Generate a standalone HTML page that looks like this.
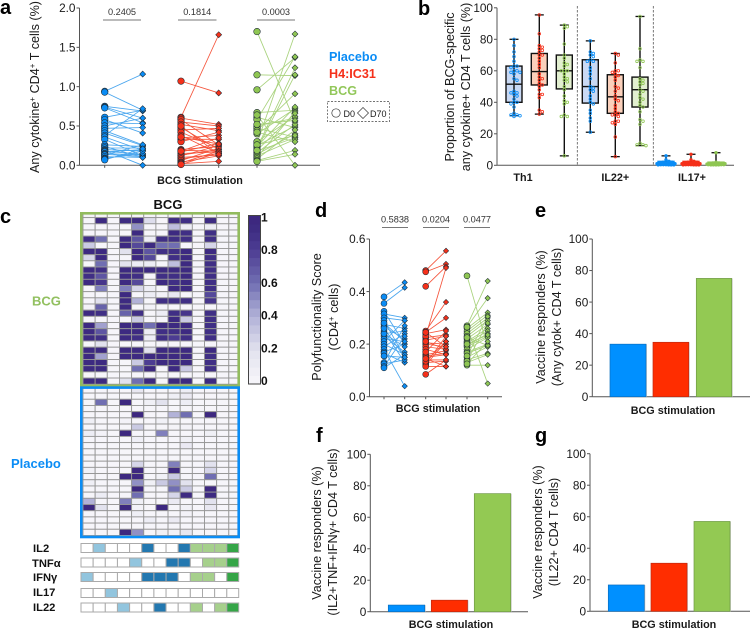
<!DOCTYPE html>
<html lang="en">
<head>
<meta charset="utf-8">
<title>BCG vaccine response figure</title>
<style>
html,body{margin:0;padding:0;background:#fff}
#figure{display:block;width:750px;height:629px}
text{font-family:"Liberation Sans",sans-serif;fill:#1a1a1a}
.tick{font-size:11.8px;text-anchor:end}
.title{font-size:12.6px;text-anchor:middle}
.xl{font-size:10.8px;font-weight:bold;text-anchor:middle}
.pv{font-size:9.2px;text-anchor:middle;fill:#333}
.letter{font-size:20px;font-weight:bold;fill:#000}
.hl{font-size:11.2px;font-weight:bold;fill:#111}
.cb{font-size:12px;font-weight:bold;fill:#111}
</style>
</head>
<body>
<svg id="figure" xmlns="http://www.w3.org/2000/svg" width="750" height="629" viewBox="0 0 750 629">
<rect width="750" height="629" fill="#fff"/>
<text class="letter" x="0" y="14">a</text>
<text class="letter" x="418" y="15">b</text>
<text class="letter" x="0" y="223">c</text>
<text class="letter" x="315" y="217">d</text>
<text class="letter" x="535" y="217">e</text>
<text class="letter" x="316" y="442">f</text>
<text class="letter" x="535" y="442">g</text>

<g id="panel-a"></g>
<g id="panel-b"></g>
<g id="panel-c"></g>
<g id="panel-d"></g>
<g id="panel-e"></g>
<g id="panel-f"></g>
<g id="panel-g"></g>

<text class="title" transform="translate(39,87) rotate(-90)">Any cytokine<tspan dy="-4" font-size="8">+</tspan><tspan dy="4"> CD4</tspan><tspan dy="-4" font-size="8">+</tspan><tspan dy="4"> T cells (%)</tspan></text>
<text class="xl" x="200" y="184">BCG Stimulation</text>
<text x="329" y="61" font-size="12.6" font-weight="bold" style="fill:#0a8cf5">Placebo</text>
<text x="329" y="78" font-size="12.6" font-weight="bold" style="fill:#f5301a">H4:IC31</text>
<text x="329" y="95" font-size="12.6" font-weight="bold" style="fill:#92c75a">BCG</text>
<rect x="327.5" y="101.5" width="62" height="20" fill="none" stroke="#444" stroke-width=".7" stroke-dasharray="2 1.5"/>
<circle cx="336" cy="113" r="4.2" fill="#fff" stroke="#333" stroke-width=".7"/>
<text x="343.5" y="117" font-size="9">D0</text>
<path d="M363 107.5L368.5 113L363 118.5L357.500 113Z" fill="#fff" stroke="#333" stroke-width=".7"/>
<text x="370" y="117" font-size="9">D70</text>

<text class="title" transform="translate(454,87) rotate(-90)">Proportion of BCG-specific</text>
<text class="title" transform="translate(470,87) rotate(-90)">any cytokine+ CD4 T cells (%)</text>

<text x="168" y="209" font-size="13" font-weight="bold" text-anchor="middle" style="fill:#111">BCG</text>
<text x="32" y="305.500" font-size="13" font-weight="bold" style="fill:#92c060">BCG</text>
<text x="11" y="468" font-size="13" font-weight="bold" style="fill:#0a8cf5">Placebo</text>
<text class="hl" x="33" y="552">IL2</text>
<text class="hl" x="32" y="567">TNFα</text>
<text class="hl" x="33" y="581">IFNγ</text>
<text class="hl" x="33" y="596">IL17</text>
<text class="hl" x="33" y="611">IL22</text>

<text class="title" transform="translate(321,317) rotate(-90)">Polyfunctionality Score</text>
<text class="title" transform="translate(338,317) rotate(-90)">(CD4<tspan dy="-4" font-size="8">+</tspan><tspan dy="4"> cells)</tspan></text>
<text class="xl" x="438" y="412">BCG stimulation</text>

<text class="title" transform="translate(545,317) rotate(-90)">Vaccine responders (%)</text>
<text class="title" transform="translate(561,317) rotate(-90)">(Any cytok+ CD4 T cells)</text>
<text class="xl" x="673" y="414">BCG stimulation</text>

<text class="title" transform="translate(321,533) rotate(-90)">Vaccine responders (%)</text>
<text class="title" transform="translate(337,532) rotate(-90)">(IL2+TNF+IFNγ+ CD4 T cells)</text>
<text class="xl" x="451" y="628">BCG stimulation</text>

<text class="title" transform="translate(542,532) rotate(-90)">Vaccine responders (%)</text>
<text class="title" transform="translate(558,532) rotate(-90)">(IL22+ CD4 T cells)</text>
<text class="xl" x="674" y="628">BCG stimulation</text>
</svg>

<script>
/* ---------- Panel a data ---------- */
const aTicks = [0, 0.5, 1, 1.5, 2];
const aTickLabels = ['0.0', '0.5', '1.0', '1.5', '2.0'];
const aPValues = ['0.2405', '0.1814', '0.0003'];
const aPlaceboD0 = [.94,.93,.75,.74,.73,.61,.58,.54,.50,.47,.44,.41,.38,.36,.33,.26,.24,.22,.20,.19,.18,.17,.15,.14,.13,.11,.09,.08,.07];
const aPlaceboD70 = [1.16,.70,.69,.60,.54,.70,.41,.53,.60,.48,.26,.25,.72,.19,.12,.24,.10,.22,.18,.00,.14,.20,.13,.11,.26,.10,.15,.18,.21];
const aH4D0 = [1.07,.61,.60,.58,.55,.52,.48,.45,.42,.38,.35,.33,.30,.20,.19,.17,.15,.13,.12,.10,.08,.06,.04,.03,.02,.01,.18,.36,.50];
const aH4D70 = [.92,1.66,.52,.26,.50,.44,.20,.47,.22,.15,.38,.33,.42,.24,.18,.28,.17,.20,.25,.13,.15,.22,.12,.18,.05,.16,.35,.27,.14];
const aBcgD0 = [1.70,1.15,.96,.67,.61,.58,.50,.47,.44,.40,.28,.25,.24,.22,.20,.18,.16,.14,.12,.10,.08,.06,.05,.30,.42,.52,.64,.26,.19];
const aBcgD70 = [.55,1.14,1.37,.70,.48,1.38,.60,.36,.91,.72,1.67,.50,.74,1.24,1.15,.35,.52,.40,.33,.68,.45,.19,.14,.62,.30,.57,.00,.38,.66];

/* ---------- Panel b data ---------- */
const bTicks = [0, 20, 40, 60, 80, 100];
const bCategories = ['Th1', 'IL22+', 'IL17+'];
const bMin = [31.5,32.5,6, 21,5.5,12.5, .3,.3,.3];
const bQ1 = [40,51,48.5, 39.5,33,37, .5,.5,.5];
const bMedian = [51.5,59.5,60, 50,43.5,48, 1.5,1.5,1];
const bQ3 = [63,71,70, 67,57.5,56, 2.5,2.5,2];
const bMax = [80,95.5,89, 79,71,94.5, 6,7,8];
const bTh1Placebo = [80,76,72,69,66,63,63,62,60,60,59,59,58,55,54,47,46,46,45,44,42,40,40,39,37,33,32,32,31.5,31];
const bTh1H4 = [95.5,83.5,76,75,74,73,72,70,70,68,66,64,62,58,56,55,54,52,51,50,48,45,45,43,35,34,32.5];
const bTh1Bcg = [89,88,87,77,70,68,65,64,63,60,60,60,58,56,55,54,53,50,48,44,41,40,39,32,31,31,6];
const bIl22Placebo = [79,72,71,70,69,67,66,66,62,60,58,55,50,49,48,47,44,42,40,39,35,33,30,28,21];
const bIl22H4 = [71,70,65,60,60,59,58,57,56,54,50,49,47,44,42,41,38,36,34,33,32,32,31,28,28,27,26,18,5.5];
const bIl22Bcg = [94.5,74,67,66,66,62,55,54,53,52,51,48,47,45,43,42,40,38,37,34,29,28,26,14,13,13,12.5];
const bIl17Placebo = [6,3.500,2.500,2,2,1.500,1.500,1,1,1,.8,.6,.5,.5,.5,.4,.4,.4,.3,.3,.3,.3];
const bIl17H4 = [7,3.500,2.500,2,2,1.500,1.500,1,1,1,.8,.6,.5,.5,.5,.4,.4,.4,.3,.3,.3,.3];
const bIl17Bcg = [8,2,1.500,1.500,1,1,1,.8,.6,.5,.5,.5,.4,.4,.4,.3,.3,.3,.3];

/* ---------- Panel c data ---------- */
const cbTicks = [0, 0.2, 0.4, 0.6, 0.8, 1];
const cbTickLabels = ['0', '0.2', '0.4', '0.6', '0.8', '1'];
const heatBcg = [
[.04,.04,.02,.04,.04,.04,.02,.04,.04,.02,.04,.02,.02],
[.02,.95,.02,.92,.92,.22,.02,.92,.9,.02,.92,.02,.02],
[.02,.02,.02,.02,.5,.02,.02,.35,.1,.02,.1,.02,.02],
[.02,.02,.02,.02,.95,.02,.02,.95,.9,.02,.9,.02,.02],
[.9,.6,.02,.92,.7,.1,.9,.9,.9,.02,.9,.02,.02],
[.3,.02,.02,.95,.75,.95,.6,.6,.02,.02,.25,.02,.02],
[.95,.95,.02,.2,.95,.7,.9,.9,.95,.02,.95,.02,.02],
[.25,.95,.02,.02,.95,.75,.02,.9,.95,.02,.9,.02,.02],
[.02,.6,.02,.2,.1,.1,.02,.35,.95,.02,.9,.02,.02],
[.95,.9,.02,.95,.95,.95,.95,.95,.95,.02,.9,.02,.02],
[.9,.7,.02,.95,.9,.02,.9,.9,.95,.02,.9,.02,.02],
[.95,.85,.02,.95,.75,.02,.95,.9,.95,.02,.9,.02,.02],
[.02,.55,.02,.55,.25,.1,.02,.95,.95,.02,.9,.02,.02],
[.02,.02,.02,.95,.02,.1,.05,.15,.02,.02,.75,.02,.02],
[.02,.2,.02,.95,.4,.02,.9,.9,.9,.02,.85,.02,.02],
[.05,.65,.02,.95,.02,.05,.02,.02,.02,.02,.02,.02,.02],
[.95,.9,.02,.65,.9,.02,.1,.9,.85,.02,.9,.02,.02],
[.02,.02,.02,.02,.3,.02,.02,.95,.3,.02,.9,.02,.02],
[.95,.45,.02,.95,.95,.6,.95,.95,.95,.02,.9,.02,.02],
[.95,.7,.02,.95,.95,.1,.9,.9,.95,.02,.9,.02,.02],
[.95,.9,.02,.95,.9,.1,.9,.8,.9,.02,.9,.02,.02],
[.02,.2,.02,.02,.02,.02,.02,.02,.02,.02,.02,.02,.02],
[.95,.95,.02,.95,.95,.2,.95,.95,.95,.02,.95,.02,.02],
[.95,.45,.02,.95,.95,.95,.95,.95,.95,.02,.9,.02,.02],
[.95,.95,.02,.02,.3,.8,.95,.95,.95,.02,.9,.02,.02],
[.95,.95,.02,.02,.6,.98,.02,.95,.3,.02,.9,.02,.02],
[.02,.02,.02,.02,.02,.02,.02,.02,.02,.02,.02,.02,.02],
[.95,.95,.02,.2,.6,.95,.02,.95,.95,.02,.95,.02,.02]
];
const heatPlacebo = [
[.02,.02,.02,.02,.15,.02,.02,.02,.1,.02,.02,.02,.02],
[.02,.02,.02,.02,.02,.02,.02,.08,.12,.02,.02,.02,.02],
[.02,.6,.02,.97,.02,.07,.2,.02,.1,.02,.02,.02,.02],
[.02,.02,.02,.02,.02,.02,.02,.02,.03,.02,.02,.02,.02],
[.02,.02,.02,.02,.98,.02,.02,.4,.6,.02,.98,.02,.02],
[.08,.02,.02,.05,.02,.02,.06,.02,.02,.02,.02,.02,.02],
[.02,.02,.02,.02,.3,.02,.02,.04,.05,.02,.02,.02,.02],
[.1,.05,.02,.97,.02,.02,.55,.02,.02,.02,.07,.02,.02],
[.02,.02,.02,.02,.08,.02,.02,.02,.07,.02,.02,.02,.02],
[.02,.02,.02,.02,.02,.02,.02,.02,.13,.02,.02,.02,.02],
[.02,.02,.02,.02,.02,.02,.02,.02,.02,.02,.02,.02,.02],
[.02,.02,.02,.02,.02,.02,.02,.02,.02,.02,.02,.02,.02],
[.02,.02,.02,.02,.25,.02,.02,.55,.02,.02,.2,.02,.02],
[.06,.02,.02,.02,.98,.02,.02,.98,.02,.02,.25,.02,.02],
[.02,.02,.02,.97,.97,.02,.06,.3,.02,.02,.6,.02,.02],
[.08,.02,.02,.02,.5,.07,.3,.5,.2,.02,.02,.02,.02],
[.02,.02,.02,.02,.98,.02,.02,.6,.3,.02,.97,.02,.02],
[.02,.1,.02,.02,.6,.02,.02,.25,.95,.02,.95,.02,.02],
[.4,.02,.02,.55,.08,.02,.02,.12,.02,.02,.2,.02,.02],
[.98,.2,.02,.97,.05,.02,.97,.02,.06,.02,.15,.02,.02],
[.02,.02,.02,.02,.08,.02,.02,.02,.05,.02,.02,.02,.02],
[.02,.02,.02,.02,.02,.1,.02,.12,.02,.02,.02,.02,.02],
[.02,.02,.02,.02,.02,.02,.02,.02,.02,.02,.02,.02,.02],
[.02,.02,.02,.97,.5,.02,.07,.05,.15,.02,.02,.02,.02]
];
/* 0 off, 1 single (light blue), 2 double (blue), 3 triple (light green), 4 all (green) */
const cyIL2 = [0,1,0,0,0,2,0,0,2,3,3,3,4];
const cyTNF = [0,0,0,0,1,0,0,2,2,0,3,3,4];
const cyIFN = [1,0,0,0,0,2,2,2,0,3,3,0,4];
const cyIL17 = [0,0,1,0,0,0,0,0,0,0,0,0,0];
const cyIL22 = [0,0,0,1,0,0,2,0,0,3,0,3,4];

/* ---------- Panel d data ---------- */
const dTicks = [0, 0.2, 0.4, 0.6];
const dTickLabels = ['0.0', '0.2', '0.4', '0.6'];
const dPValues = ['0.5838', '0.0204', '0.0477'];
const dPlaceboD0 = [.38,.355,.325,.315,.30,.29,.275,.265,.25,.24,.23,.22,.21,.20,.19,.18,.17,.165,.155,.13,.125,.115,.11,.24,.26,.28];
const dPlaceboD70 = [.435,.415,.20,.30,.29,.15,.26,.22,.13,.25,.17,.21,.29,.16,.24,.04,.20,.13,.15,.27,.14,.23,.16,.19,.15,.21];
const dH4D0 = [.48,.475,.42,.25,.245,.24,.225,.215,.205,.20,.19,.16,.155,.15,.14,.13,.125,.12,.115,.085,.23,.18,.17,.135,.21,.145,.245];
const dH4D70 = [.555,.505,.495,.36,.30,.255,.235,.23,.20,.19,.18,.175,.165,.16,.14,.135,.23,.21,.115,.14,.49,.16,.25,.21,.18,.115,.19];
const dBcgD0 = [.46,.27,.265,.26,.25,.24,.23,.22,.21,.205,.195,.19,.18,.17,.165,.15,.14,.13,.12,.265,.225,.155,.135,.125,.20];
const dBcgD70 = [.19,.44,.375,.32,.31,.30,.29,.275,.26,.25,.24,.23,.225,.20,.195,.19,.165,.16,.12,.05,.195,.305,.28,.21,.235];

/* ---------- Panels e, f, g data ---------- */
const respTicks = [0, 20, 40, 60, 80, 100];
const eValues = [33.3, 34.5, 75];
const fValues = [4.2, 7.3, 75];
const gValues = [16.7, 30.5, 57];

/* ---------- Drawing ---------- */
const NS = 'http://www.w3.org/2000/svg';
const BLUE = '#0a8cf5', RED = '#f5301a', GREEN = '#8fc653';
const LINE_BLUE = '#4aa6ee', LINE_RED = '#f5533a', LINE_GREEN = '#a8d27c';
const BAR_BLUE = '#0090ff', BAR_RED = '#ff2d00', BAR_GREEN = '#93c953';

function make(tag, parent, attrs, txt) {
  const el = document.createElementNS(NS, tag);
  for (const k in attrs) el.setAttribute(k, attrs[k]);
  if (txt !== undefined) el.textContent = txt;
  parent.appendChild(el);
  return el;
}
function scale(d0, d1, r0, r1) { return v => r0 + (v - d0) / (d1 - d0) * (r1 - r0); }

function drawYAxis(g, x, y, ticks, labels, xEnd) {
  const yTop = y(ticks[ticks.length - 1]), yBot = y(ticks[0]);
  const spine = make('line', g, {x1: x, x2: x, y1: yTop, y2: yBot, stroke: '#555', 'stroke-width': 1});
  
  
  const base = make('line', g, {x1: x, x2: xEnd, y1: yBot, y2: yBot, stroke: '#555', 'stroke-width': 1});
  
  
  ticks.forEach((t, i) => {
    const tk = make('line', g, {x1: x - 3, x2: x, y1: y(t), y2: y(t), stroke: '#555', 'stroke-width': 1});
    
    
    const lb = make('text', g, {class: 'tick', x: x - 4, y: y(t) + 4.2}, labels[i]);
    
    
  });
}

function diamond(cx, cy, r) {
  return 'M' + cx + ' ' + (cy - r) + 'L' + (cx + r) + ' ' + cy + 'L' + cx + ' ' + (cy + r) + 'L' + (cx - r) + ' ' + cy + 'Z';
}

function drawPairs(g, d0, d70, x0, x1, y, color, lineColor, rc, rd) {
  d0.forEach((v, i) => {
    const ln = make('line', g, {x1: x0, x2: x1, y1: y(v), y2: y(d70[i]), stroke: lineColor, 'stroke-width': .85});
    
    
  });
  d0.forEach(v => {
    const c = make('circle', g, {cx: x0, cy: y(v), r: rc, fill: color, stroke: '#1d2a33', 'stroke-width': .55});
    
    
  });
  d70.forEach(v => {
    const p = make('path', g, {d: diamond(x1, y(v), rd), fill: color, stroke: '#1d2a33', 'stroke-width': .55});
    
    
  });
}

function drawXTicks(g, xs, yBase) {
  xs.forEach(x => {
    const t = make('line', g, {x1: x, x2: x, y1: yBase, y2: yBase + 2.5, stroke: '#555', 'stroke-width': 1});
    
    
  });
}

function drawBracket(g, x0, x1, yLine, yText, label) {
  const l = make('line', g, {x1: x0, x2: x1, y1: yLine, y2: yLine, stroke: '#777', 'stroke-width': .9});
  
  
  const t = make('text', g, {class: 'pv', x: (x0 + x1) / 2, y: yText}, label);
  
  
}

/* Panel a */
(function () {
  const g = document.getElementById('panel-a');
  const y = scale(0, 2, 165.3, 8);
  drawYAxis(g, 79.5, y, aTicks, aTickLabels, 320);
  const xs = [104.7, 142.7, 181, 218.7, 257, 295];
  drawXTicks(g, xs, 165.3);
  drawPairs(g, aPlaceboD0, aPlaceboD70, xs[0], xs[1], y, BLUE, LINE_BLUE, 3.3, 3);
  drawPairs(g, aH4D0, aH4D70, xs[2], xs[3], y, RED, LINE_RED, 3.3, 3);
  drawPairs(g, aBcgD0, aBcgD70, xs[4], xs[5], y, GREEN, LINE_GREEN, 3.3, 3);
  drawBracket(g, 103, 141, 20, 15, aPValues[0]);
  drawBracket(g, 178, 216.500, 20, 15, aPValues[1]);
  drawBracket(g, 257, 295, 20, 15, aPValues[2]);
})();

/* Panel b */
(function () {
  const g = document.getElementById('panel-b');
  const y = scale(0, 100, 165.3, 7.8);
  drawYAxis(g, 497, y, bTicks, bTicks.map(String), 734);
  [577.3, 653.3].forEach(x => {
    const d = make('line', g, {x1: x, x2: x, y1: 6, y2: 165, stroke: '#555', 'stroke-width': .8, 'stroke-dasharray': '2.500 1.500'});
    
    
  });
  const centers = [514, 539.3, 564.3, 590.3, 615.3, 640, 666, 691, 716];
  const fills = ['#c9d9f4', '#fbd0bb', '#e2efd0'];
  const strokes = [BLUE, RED, GREEN];
  const sets = [bTh1Placebo, bTh1H4, bTh1Bcg, bIl22Placebo, bIl22H4, bIl22Bcg, bIl17Placebo, bIl17H4, bIl17Bcg];
  centers.forEach((c, i) => {
    const col = i % 3;
    const isSmall = i >= 6;
    const w = 8;
    const ink = isSmall ? strokes[col] : '#111';
    const box = make('rect', g, {x: c - w, y: y(bQ3[i]), width: 2 * w, height: y(bQ1[i]) - y(bQ3[i]), fill: isSmall ? strokes[col] : fills[col], stroke: ink, 'stroke-width': 1.4});
    
    
    const wh = make('line', g, {x1: c, x2: c, y1: y(bMax[i]), y2: y(bMin[i]), stroke: '#111', 'stroke-width': 1.4});
    
    
    [bMax[i], bMin[i]].forEach(v => {
      const cap = make('line', g, {x1: c - 4.5, x2: c + 4.5, y1: y(v), y2: y(v), stroke: '#111', 'stroke-width': 1.3});
      
      
    });
    const med = make('line', g, {x1: c - w, x2: c + w, y1: y(bMedian[i]), y2: y(bMedian[i]), stroke: ink, 'stroke-width': 1.4});
    
    
    /* deterministic beeswarm: shift a point sideways until it clears those already placed */
    const placed = [];
    sets[i].forEach((v, n) => {
      const py = y(v);
      let off = ((n % 7) - 3) * 2.6;
      for (let s = 0; s < 7; s++) {
        const trial = (s % 2 ? 1 : -1) * Math.ceil(s / 2) * 3;
        if (placed.every(p => Math.hypot(p[0] - trial, p[1] - py) >= 2.7)) {
          off = trial;
          break;
        }
      }
      placed.push([off, py]);
      const pt = make('circle', g, {cx: c + off, cy: py, r: 1.300, fill: isSmall ? strokes[col] : 'none', stroke: strokes[col], 'stroke-width': .8});
      
      
    });
  });
  [523, 615.3, 692].forEach((x, i) => {
    const t = make('text', g, {class: 'xl', x: x, y: 181}, bCategories[i]);
    
    
  });
})();

/* Panel c */
function heatColor(v) {
  const stops = [[0, 248, 247, 251], [.2, 226, 226, 238], [.4, 178, 178, 216], [.6, 112, 110, 178], [.8, 76, 60, 146], [.92, 62, 44, 130], [1, 60, 38, 126]];
  for (let i = 1; i < stops.length; i++) {
    if (v <= stops[i][0]) {
      const a = stops[i - 1], b = stops[i], f = (v - a[0]) / (b[0] - a[0]);
      return 'rgb(' + [1, 2, 3].map(k => Math.round(a[k] + (b[k] - a[k]) * f)).join(',') + ')';
    }
  }
  return 'rgb(60,38,126)';
}
(function () {
  const g = document.getElementById('panel-c');
  const x0 = 83, cw = 12.15, xMax = 238;
  function drawMatrix(rows, yStart, rh, yMin) {
    rows.forEach((row, r) => {
      row.forEach((v, c) => {
        const top = Math.max(yStart + r * rh, yMin);
        const right = Math.min(x0 + (c + 1) * cw, xMax);
        const cell = make('rect', g, {x: x0 + c * cw, y: top, width: right - (x0 + c * cw), height: yStart + (r + 1) * rh - top, fill: heatColor(v), stroke: '#969696', 'stroke-width': .9});
        
        
      });
    });
  }
  drawMatrix(heatBcg, 211.45, 6.17, 212.5);
  drawMatrix(heatPlacebo, 386.9, 6.19, 387);
  const bf = make('rect', g, {x: 81.3, y: 213.3, width: 157.4, height: 172.5, fill: 'none', stroke: '#92bb5e', 'stroke-width': 2.6});
  
  
  const pf = make('rect', g, {x: 81.3, y: 387.6, width: 157.4, height: 149.4, fill: 'none', stroke: '#0a8cf5', 'stroke-width': 2.6});
  
  

  const cyRows = [cyIL2, cyTNF, cyIFN, cyIL17, cyIL22];
  const cyY = [543.500, 558, 572.500, 588.500, 603];
  const cyColors = ['#ffffff', '#92c5de', '#2378b0', '#a6d08c', '#35a547'];
  cyRows.forEach((row, r) => {
    row.forEach((v, c) => {
      const left = 81 + c * cw;
      const cell = make('rect', g, {x: left, y: cyY[r], width: Math.min(cw, 238.7 - left), height: 9, fill: cyColors[v], stroke: '#aaa', 'stroke-width': 1});
      
      
    });
  });

  /* colour bar */
  const yc = scale(0, 1, 384, 215.5);
  const steps = [];
  for (let i = 0; i < 20; i++) steps.push(i / 20);
  steps.forEach(s => {
    const st = make('rect', g, {x: 248.500, y: yc(s + .05), width: 12, height: yc(s) - yc(s + .05) + .4, fill: heatColor(s + .025)});
    
    
  });
  const fr = make('rect', g, {x: 248.500, y: 215.500, width: 12, height: 168.500, fill: 'none', stroke: '#444', 'stroke-width': 1});
  
  
  const ylab = scale(0, 1, 380.5, 217);
  cbTicks.forEach((t, i) => {
    const l = make('text', g, {class: 'cb', x: 261, y: ylab(t) + 4.5}, cbTickLabels[i]);
    
    
  });
})();

/* Panel d */
(function () {
  const g = document.getElementById('panel-d');
  const y = scale(0, .6, 396.7, 239);
  drawYAxis(g, 369.5, y, dTicks, dTickLabels, 502);
  const xs = [384, 404.7, 425.7, 446, 467, 487.7];
  drawXTicks(g, xs, 396.7);
  drawPairs(g, dPlaceboD0, dPlaceboD70, xs[0], xs[1], y, BLUE, LINE_BLUE, 3, 2.7);
  drawPairs(g, dH4D0, dH4D70, xs[2], xs[3], y, RED, LINE_RED, 3, 2.7);
  drawPairs(g, dBcgD0, dBcgD70, xs[4], xs[5], y, GREEN, LINE_GREEN, 3, 2.7);
  drawBracket(g, 382, 408, 227.5, 222.5, dPValues[0]);
  drawBracket(g, 423, 449, 227.5, 222.5, dPValues[1]);
  drawBracket(g, 464, 490, 227.5, 222.5, dPValues[2]);
})();

/* Panels e, f, g */
function drawBars(id, axisX, y0, y100, xEnd, bars, values) {
  const g = document.getElementById(id);
  const y = scale(0, 100, y0, y100);
  const colors = [BAR_BLUE, BAR_RED, BAR_GREEN];
  const edges = ['#0a6fc0', '#c02a10', '#6f9a45'];
  drawYAxis(g, axisX, y, respTicks, respTicks.map(String), xEnd);
  values.forEach((v, i) => {
    const shadow = make('rect', g, {x: bars[i][0] + 1, y: y(v), width: bars[i][1] - bars[i][0], height: y0 - y(v), fill: '#cfcfcf'});
    
    
    const b = make('rect', g, {x: bars[i][0], y: y(v), width: bars[i][1] - bars[i][0], height: y0 - y(v), fill: colors[i], stroke: edges[i], 'stroke-width': .7});
    
    
  });
}
drawBars('panel-e', 592.3, 396.7, 239, 750, [[610, 646], [653, 688.7], [696.3, 731.7]], eValues);
drawBars('panel-f', 370.3, 611.7, 454.3, 528, [[388.3, 424.7], [431.3, 467.500], [474.3, 510.7]], fValues);
drawBars('panel-g', 590, 611.3, 453.7, 750, [[608.3, 644.3], [651, 687], [694, 730]], gValues);
</script>
</body>
</html>
